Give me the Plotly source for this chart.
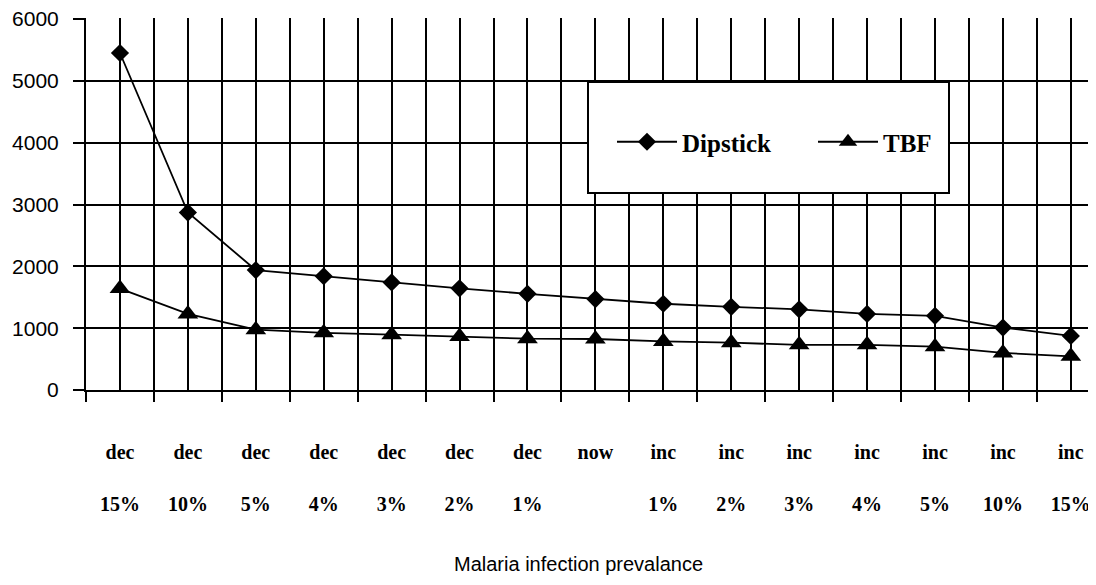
import plotly.graph_objects as go

# ---- data ----
label_top = ["dec", "dec", "dec", "dec", "dec", "dec", "dec", "now",
             "inc", "inc", "inc", "inc", "inc", "inc", "inc"]
label_bottom = ["15%", "10%", "5%", "4%", "3%", "2%", "1%", "",
                "1%", "2%", "3%", "4%", "5%", "10%", "15%"]
categories = [f"{a} {b}".strip() for a, b in zip(label_top, label_bottom)]
dipstick = [5450, 2870, 1940, 1840, 1740, 1645, 1555, 1470,
            1395, 1345, 1305, 1230, 1200, 1010, 875]
tbf = [1640, 1230, 975, 925, 895, 865, 830, 825,
       785, 765, 730, 730, 700, 600, 545]
y_ticks = [0, 1000, 2000, 3000, 4000, 5000, 6000]
x_title = "Malaria infection prevalance"

OFF = 8  # page body margin of the html page
W, H = 1096 - OFF, 585 - OFF
L, T = 86 - OFF, 18 - OFF
R = 0
B = H - (390 - OFF)
pw, ph = W - L - R, H - T - B
y_top = 6000 * ph / (390 - 19)

def px_x(px):
    return (px - OFF - L) / pw

def px_y(py):
    return (H - B - (py - OFF)) / ph

fig = go.Figure()
fig.add_trace(go.Scatter(
    x=categories, y=dipstick, name="Dipstick", xaxis="x", yaxis="y",
    mode="lines+markers",
    line=dict(color="black", width=1.8),
    marker=dict(symbol="diamond", size=14, color="black"),
))
fig.add_trace(go.Scatter(
    x=categories, y=tbf, name="TBF", xaxis="x2", yaxis="y",
    mode="lines+markers",
    line=dict(color="black", width=1.8),
    marker=dict(symbol="triangle-up", size=18, color="black"),
))

xr = [-0.5, -0.5 + pw / 67.92]
fig.update_layout(
    width=W, height=H,
    margin=dict(l=L, r=R, t=T, b=B),
    paper_bgcolor="white", plot_bgcolor="white",
    font=dict(family="Liberation Sans", color="black"),
    xaxis=dict(
        type="category", categoryorder="array", categoryarray=categories,
        range=xr, tickson="boundaries",
        showgrid=True, gridcolor="black", gridwidth=2,
        ticks="outside", ticklen=10, tickwidth=2, tickcolor="black",
        tickmode="array", tickvals=categories,
        ticktext=[f"{a}<br><br>{b}" for a, b in zip(label_top, label_bottom)],
        tickfont=dict(family="Liberation Serif", size=20, weight="bold"),
        ticklabelstandoff=43, ticklabeloverflow="allow",
        showline=True, linecolor="black", linewidth=2,
        zeroline=False,
    ),
    xaxis2=dict(
        type="category", categoryorder="array", categoryarray=categories,
        range=xr, overlaying="x", anchor="y", side="bottom",
        tickson="labels", showgrid=True, gridcolor="black", gridwidth=2,
        showticklabels=False, ticks="", showline=False, zeroline=False,
    ),
    yaxis=dict(
        range=[0, y_top], tickmode="array", tickvals=y_ticks,
        showgrid=True, gridcolor="black", gridwidth=2,
        ticks="outside", ticklen=11, tickwidth=2, tickcolor="black",
        tickfont=dict(family="Liberation Sans", size=21),
        ticklabelstandoff=10, ticklabeloverflow="allow",
        showline=True, linecolor="black", linewidth=2,
        zeroline=False,
    ),
    showlegend=True,
    legend=dict(
        orientation="h", x=px_x(612), y=px_y(142),
        xanchor="left", yanchor="middle",
        bgcolor="rgba(0,0,0,0)", borderwidth=0,
        font=dict(family="Liberation Serif", size=25, weight="bold"),
        itemwidth=60, entrywidth=126, entrywidthmode="pixels",
    ),
    shapes=[dict(
        type="rect", xref="paper", yref="paper", layer="above",
        x0=px_x(588), x1=px_x(949), y0=px_y(193), y1=px_y(82),
        fillcolor="white", line=dict(color="black", width=2),
    )],
    annotations=[dict(
        text=x_title, xref="paper", yref="paper",
        x=px_x(578), y=px_y(564), xanchor="center", yanchor="middle",
        showarrow=False, font=dict(family="Liberation Sans", size=20),
    )],
)

fig.write_html("out.html")
